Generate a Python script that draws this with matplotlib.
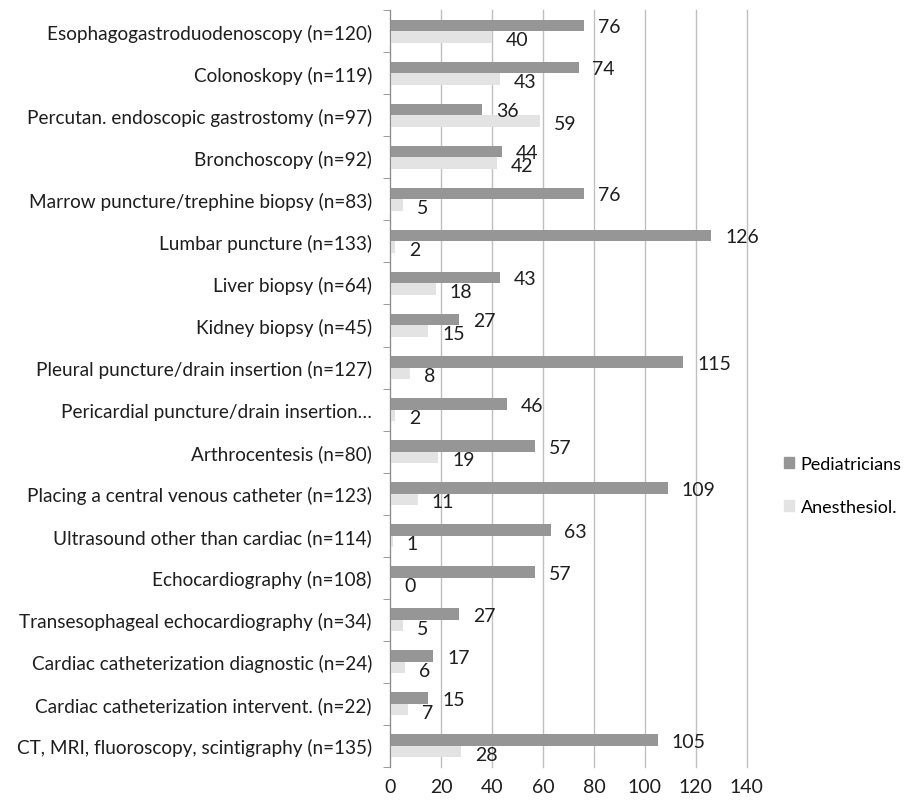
import numpy as np
import matplotlib.pyplot as plt
from matplotlib.patches import Patch

categories = [
    "Esophagogastroduodenoscopy (n=120)",
    "Colonoskopy (n=119)",
    "Percutan. endoscopic gastrostomy (n=97)",
    "Bronchoscopy (n=92)",
    "Marrow puncture/trephine biopsy (n=83)",
    "Lumbar puncture (n=133)",
    "Liver biopsy (n=64)",
    "Kidney biopsy (n=45)",
    "Pleural puncture/drain insertion (n=127)",
    "Pericardial puncture/drain insertion…",
    "Arthrocentesis (n=80)",
    "Placing a central venous catheter (n=123)",
    "Ultrasound other than cardiac (n=114)",
    "Echocardiography (n=108)",
    "Transesophageal echocardiography (n=34)",
    "Cardiac catheterization diagnostic (n=24)",
    "Cardiac catheterization intervent. (n=22)",
    "CT, MRI, fluoroscopy, scintigraphy (n=135)",
]
pediatricians = [76, 74, 36, 44, 76, 126, 43, 27, 115, 46, 57, 109, 63, 57, 27, 17, 15, 105]
anesthesiol = [40, 43, 59, 42, 5, 2, 18, 15, 8, 2, 19, 11, 1, 0, 5, 6, 7, 28]
xticks = [0, 20, 40, 60, 80, 100, 120, 140]

DARK = "#969696"
LIGHT = "#e3e3e3"
TEXT = "#1e1e1e"

plt.rcParams['font.family'] = ['Lato', 'DejaVu Sans']

fig = plt.figure(figsize=(9.22, 8.04), dpi=100)
ax = fig.add_axes([0.423, 0.045, 0.387, 0.941])

n = len(categories)
y = np.arange(n)
h = 0.275

ax.barh(y - h / 2, pediatricians, height=h, color=DARK, zorder=3)
ax.barh(y + h / 2, anesthesiol, height=h, color=LIGHT, zorder=3)

for i in range(n):
    ax.annotate(str(pediatricians[i]), (pediatricians[i], y[i] - h / 2 + 0.03),
                xytext=(10, 0), textcoords="offset points",
                va="center", ha="left", fontsize=14, color=TEXT)
    ax.annotate(str(anesthesiol[i]), (anesthesiol[i], y[i] + h / 2 + 0.06),
                xytext=(10, 0), textcoords="offset points",
                va="center", ha="left", fontsize=14, color=TEXT)

ax.set_ylim(n - 0.5, -0.5)
ax.set_xlim(0, 140)
ax.set_xticks(xticks)
ax.set_yticks(y)
ax.set_yticklabels(categories, fontsize=13.7, color=TEXT)
ax.tick_params(axis="x", labelsize=14, length=0, pad=8, colors=TEXT)
ax.set_yticks(np.arange(n + 1) - 0.5, minor=True)
ax.tick_params(axis="y", which="major", length=0, pad=13)
ax.tick_params(axis="y", which="minor", length=5, color="#8c8c8c")

ax.grid(axis="x", color="#c0c0c0", linewidth=1, zorder=0)
for gl in ax.get_xgridlines():
    gl.set_clip_on(False)
for side in ["top", "right", "bottom"]:
    ax.spines[side].set_visible(False)
ax.spines["left"].set_color("#8c8c8c")
ax.spines["left"].set_zorder(4)

handles = [Patch(color=DARK, label="Pediatricians"), Patch(color=LIGHT, label="Anesthesiol.")]
fig.legend(handles=handles, loc="center left", bbox_to_anchor=(0.842, 0.395),
           frameon=False, fontsize=13, handlelength=0.6, handleheight=0.6,
           handletextpad=0.35, labelspacing=1.5, borderaxespad=0)

fig.savefig("out.png", dpi=100)
